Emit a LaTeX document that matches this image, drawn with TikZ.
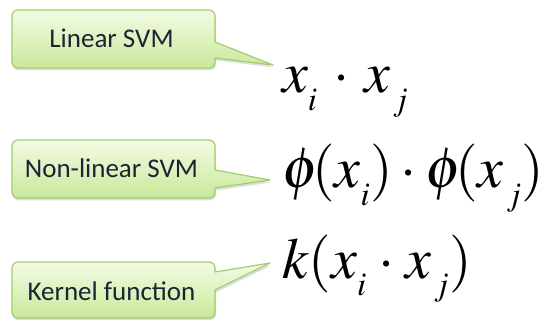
\documentclass[tikz,border=0pt]{standalone}
\usepackage{mathptmx}
\usepackage{graphicx}
\usepackage{fontspec}
\setmainfont{Carlito}
\usetikzlibrary{shadows}
\DeclareMathSizes{58}{58}{33}{25}
\definecolor{calloutborder}{HTML}{A3CC6E}
\definecolor{callouttop}{HTML}{F3FBE4}
\definecolor{calloutbottom}{HTML}{C9E99A}
\definecolor{callouttext}{HTML}{1C2433}
\newcommand{\lowsub}[1]{_{\raisebox{-9pt}{$\scriptstyle #1$}}}
\newcommand{\lowsubj}[1]{_{\mkern1.5mu\raisebox{-9pt}{$\scriptstyle #1$}}}
\tikzset{
  labelnode/.style={minimum width=203pt, minimum height=58pt, inner sep=0pt,
    text=callouttext, font=\fontsize{27}{30}\selectfont},
  calloutshape/.style={draw=calloutborder, line width=1.2pt, top color=callouttop,
    bottom color=calloutbottom, line join=round,
    drop shadow={opacity=0.25, shadow xshift=1pt, shadow yshift=-2.5pt}},
  mathnode/.style={anchor=base west, inner sep=0pt, font=\fontsize{58}{60}\selectfont}
}
\begin{document}
\begin{tikzpicture}[x=1pt, y=-1pt]
\useasboundingbox (0,0) rectangle (543,320);
% formulas
\node[mathnode] (m1) at (282,93) {$x\lowsub{i}\mkern2.5mu\cdot\mkern2mu x\lowsubj{j}$};
\node[mathnode] (m2) at (282,188) {$\phi\mkern-2mu(x\lowsub{i})\cdot\phi\mkern-2mu(x\lowsubj{j})$};
\node[mathnode] (m3) at (282,278) {$k(x\lowsub{i}\mkern1mu\cdot\mkern1mu x\lowsubj{j})$};
\coordinate (t1) at (273,65);
\coordinate (t2) at (270,180);
\coordinate (t3) at (270,263);
% callout 1
\path[calloutshape] (t1) -- (215,58) [rounded corners=6pt] -- (215,68) -- (12,68) -- (12,10) -- (215,10) [sharp corners] -- (215,42) -- cycle;
\node[labelnode] (c1) at (111.5,38.5) {Linear SVM};
% callout 2
\path[calloutshape] (t2) -- (215,188) [rounded corners=6pt] -- (215,198) -- (12,198) -- (12,140) -- (215,140) [sharp corners] -- (215,170) -- cycle;
\node[labelnode] (c2) at (111.5,168.5) {Non-linear SVM};
% callout 3
\path[calloutshape] (t3) -- (215,290) [rounded corners=6pt] -- (215,318) -- (12,318) -- (12,262) -- (215,262) [sharp corners] -- (215,272) -- cycle;
\node[labelnode, minimum height=56pt] (c3) at (111.5,291) {Kernel function};
\end{tikzpicture}
\end{document}
